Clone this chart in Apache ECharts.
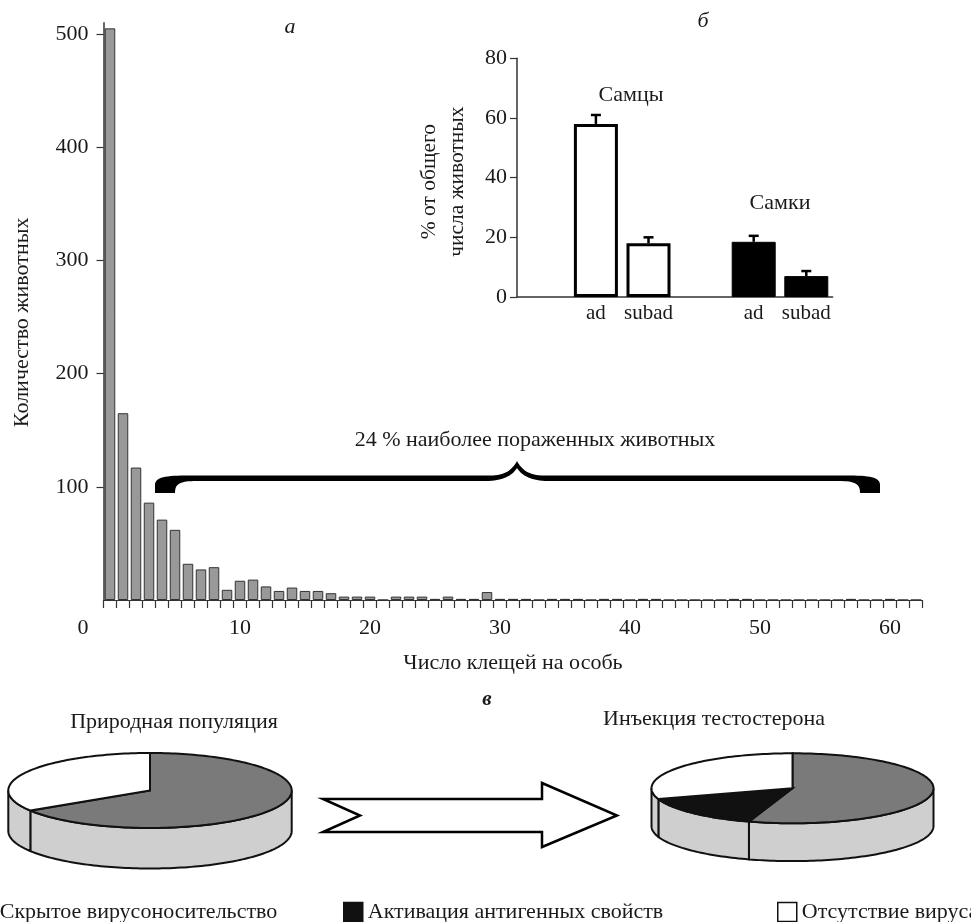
<!DOCTYPE html>
<html>
<head>
<meta charset="utf-8">
<title>Клещи и вирусоносительство</title>
<script src="https://cdn.jsdelivr.net/npm/echarts@6/dist/echarts.min.js"></script>
<style>
html, body { margin: 0; padding: 0; background: #fff; }
#chart { width: 971px; height: 922px; }
</style>
</head>
<body>
<div id="chart"></div>
<script>
// а: распределение числа клещей на особь
const miteCounts = ['0', '1', '2', '3', '4', '5', '6', '7', '8', '9', '10', '11', '12', '13', '14', '15', '16', '17', '18', '19', '20',
  '21', '22', '23', '24', '25', '26', '27', '28', '29', '30', '31', '32', '33', '34', '35', '36', '37', '38', '39', '40', '41',
  '42', '43', '44', '45', '46', '47', '48', '49', '50', '51', '52', '53', '54', '55', '56', '57', '58', '59', '60', '61', '62']
const animalCounts = [505, 165, 117, 86, 71, 62, 32, 27, 29, 9, 17, 18, 12, 8, 11, 8, 8, 6, 3, 3, 3,
  0, 3, 3, 3, 1, 3, 1, 1, 7, 1, 1, 1, 0, 1, 1, 1, 0, 1, 1, 0, 1,
  1, 0, 0, 0, 0, 0, 1, 1, 0, 0, 0, 0, 0, 0, 0, 1, 0, 0, 1, 0, 0]
const countTicks = [100, 200, 300, 400, 500]

// б: доля животных по полу и возрасту
const ageGroups = ['', 'ad', 'subad', '', 'ad', 'subad']
const maleShare = ['-', 58, 18, '-', '-', '-']
const maleError = ['-', 3, 2, '-', '-', '-']
const femaleShare = ['-', '-', '-', '-', 18.5, 7]
const femaleError = ['-', '-', '-', '-', 2, 1.7]

// в: состояние вируса
const virusStates = ['Скрытое вирусоносительство', 'Активация антигенных свойств', 'Отсутствие вируса']
const naturalShare = [66, 0, 34]
const testosteroneShare = [55, 15, 30]

const FONT = 'Liberation Serif'
const INK = '#1a1a1a'
const stateColors = ['#7a7a7a', '#111111', '#ffffff']
const SIDE_COLOR = '#cfcfcf'
const PIE_DEPTH = 1.08

const chart = echarts.init(document.getElementById('chart'))

function errorBars(values, errors) {
  const out = []
  values.forEach((v, i) => {
    if (v !== '-') out.push([i, v, v + errors[i]])
  })
  return out
}

function renderError(params, api) {
  const base = api.coord([api.value(0), api.value(1)])
  const top = api.coord([api.value(0), api.value(2)])
  const style = { stroke: '#000', lineWidth: 2.5 }
  return {
    type: 'group',
    children: [
      { type: 'line', shape: { x1: base[0], y1: base[1], x2: top[0], y2: top[1] }, style },
      { type: 'line', shape: { x1: top[0] - 5, y1: top[1], x2: top[0] + 5, y2: top[1] }, style }
    ]
  }
}

function renderSlice(params, api) {
  const a0 = Math.PI / 2 - api.value(0) * 2 * Math.PI
  const a1 = Math.PI / 2 - api.value(1) * 2 * Math.PI
  const arc = (from, to, dz) => {
    const n = Math.max(2, Math.ceil(Math.abs(to - from) / (Math.PI / 120)))
    const pts = []
    for (let i = 0; i <= n; i++) {
      const a = from + (to - from) * i / n
      pts.push(api.coord([Math.cos(a), Math.sin(a) - dz]))
    }
    return pts
  }
  const children = []
  const lo = Math.max(a1, -Math.PI)
  const hi = Math.min(a0, 0)
  if (hi > lo) {
    children.push({
      type: 'polygon',
      shape: { points: arc(lo, hi, 0).concat(arc(hi, lo, PIE_DEPTH)) },
      style: { fill: SIDE_COLOR, stroke: '#111', lineWidth: 2 }
    })
  }
  children.push({
    type: 'polygon',
    shape: { points: [api.coord([0, 0])].concat(arc(a0, a1, 0)) },
    style: { fill: api.visual('color'), stroke: '#111', lineWidth: 2 }
  })
  return { type: 'group', children }
}

function pieSeries(shares, axisIndex) {
  const total = shares.reduce((s, v) => s + v, 0)
  const list = []
  let acc = 0
  shares.forEach((v, i) => {
    if (v > 0) {
      list.push({
        type: 'custom',
        name: virusStates[i],
        xAxisIndex: axisIndex,
        yAxisIndex: axisIndex,
        clip: false,
        silent: true,
        itemStyle: { color: stateColors[i] },
        data: [[acc / total, (acc + v) / total]],
        renderItem: renderSlice
      })
    }
    acc += v
  })
  return list
}

// контур фигурной скобки: отрезки и кубические кривые, переведённые в точки
function outline(cmds) {
  const pts = []
  let cur = null
  cmds.forEach(c => {
    if (c.length === 2) {
      cur = c
      pts.push(c)
    } else {
      const [x1, y1, x2, y2, x, y] = c
      for (let k = 1; k <= 16; k++) {
        const t = k / 16, u = 1 - t
        pts.push([
          u * u * u * cur[0] + 3 * u * u * t * x1 + 3 * u * t * t * x2 + t * t * t * x,
          u * u * u * cur[1] + 3 * u * u * t * y1 + 3 * u * t * t * y2 + t * t * t * y
        ])
      }
      cur = [x, y]
    }
  })
  return pts
}

const braceShape = outline([
  [155, 493], [155, 485], [155, 477, 165, 475.5, 190, 475.5], [490, 475.5], [505, 475.5, 512, 470, 517, 461],
  [522, 470, 529, 475.5, 544, 475.5], [845, 475.5], [870, 475.5, 880, 477, 880, 485], [880, 493], [860, 493],
  [860, 484, 856, 481, 838, 481], [548, 481], [532, 481, 522, 476, 517, 468], [512, 476, 502, 481, 486, 481],
  [197, 481], [179, 481, 175, 484, 175, 493]
])

const hiddenAxis = (min, max, gridIndex) => ({ type: 'value', gridIndex, min, max, show: false })

const legendBase = {
  selectedMode: false,
  icon: 'rect',
  itemWidth: 19,
  itemHeight: 19,
  top: 896,
  itemStyle: { borderColor: '#111', borderWidth: 1.5 },
  textStyle: { fontFamily: FONT, fontSize: 22, color: INK }
}

const label = (text, x, y, font) => ({
  type: 'text',
  x,
  y,
  style: { text, font: font || '22px "Liberation Serif"', fill: INK, align: 'center', verticalAlign: 'middle' }
})

chart.setOption({
  animation: false,
  backgroundColor: '#fff',
  textStyle: { fontFamily: FONT, color: INK },
  legend: [
    Object.assign({ data: [virusStates[0]], left: -30 }, legendBase),
    Object.assign({ data: [virusStates[1]], left: 338 }, legendBase),
    Object.assign({ data: [virusStates[2]], left: 772 }, legendBase)
  ],
  grid: [
    { left: 103.5, right: 48.5, top: 22.7, bottom: 322 },
    { left: 517, width: 315.6, top: 58.3, bottom: 625 },
    { left: 8.3, width: 283.4, top: 753, height: 37.5 * (2 + PIE_DEPTH) },
    { left: 651.5, width: 282, top: 753.3, height: 35 * (2 + PIE_DEPTH) }
  ],
  xAxis: [
    {
      type: 'category',
      gridIndex: 0,
      data: miteCounts,
      name: 'Число клещей на особь',
      nameLocation: 'middle',
      nameGap: 52,
      nameTextStyle: { fontSize: 22, color: INK },
      axisLine: { lineStyle: { color: '#333', width: 1.2 } },
      axisTick: { show: true, interval: 0, length: 8, lineStyle: { color: '#333', width: 1.2 } },
      axisLabel: {
        interval: i => i % 10 === 0,
        margin: 17,
        fontSize: 22,
        color: INK,
        formatter: v => (v === '0' ? '{o|0}' : v),
        rich: { o: { fontSize: 22, padding: [0, 54, 0, 0] } }
      }
    },
    {
      type: 'category',
      gridIndex: 1,
      data: ageGroups,
      axisLine: { lineStyle: { color: '#333', width: 1.5 } },
      axisTick: { show: false },
      axisLabel: { interval: 0, margin: 6, fontSize: 21, color: INK }
    },
    hiddenAxis(-1, 1, 2),
    hiddenAxis(-1, 1, 3)
  ],
  yAxis: [
    {
      type: 'value',
      gridIndex: 0,
      min: 0,
      max: 510,
      name: 'Количество животных',
      nameLocation: 'middle',
      nameRotate: 90,
      nameGap: 70,
      nameTextStyle: { fontSize: 22, color: INK, padding: [0, 22, 0, 0] },
      splitLine: { show: false },
      axisLine: { show: true, lineStyle: { color: '#333', width: 1.5 } },
      axisTick: { show: true, length: 7, customValues: countTicks, lineStyle: { color: '#333', width: 1.2 } },
      axisLabel: { customValues: countTicks, margin: 15, fontSize: 22, color: INK }
    },
    {
      type: 'value',
      gridIndex: 1,
      min: 0,
      max: 80,
      interval: 20,
      name: '% от общего\nчисла животных',
      nameLocation: 'middle',
      nameRotate: 90,
      nameGap: 46,
      nameTextStyle: { fontSize: 21.5, lineHeight: 28, color: INK, padding: [0, 8, 0, 0] },
      splitLine: { show: false },
      axisLine: { show: true, lineStyle: { color: '#333', width: 1.5 } },
      axisTick: { show: true, length: 7, lineStyle: { color: '#333', width: 1.2 } },
      axisLabel: { margin: 10, fontSize: 22, color: INK }
    },
    hiddenAxis(-1 - PIE_DEPTH, 1, 2),
    hiddenAxis(-1 - PIE_DEPTH, 1, 3)
  ],
  series: [
    {
      type: 'bar',
      xAxisIndex: 0,
      yAxisIndex: 0,
      data: animalCounts,
      barWidth: 10.5,
      itemStyle: { color: '#999999', borderColor: '#333', borderWidth: 1 }
    },
    {
      type: 'bar',
      name: 'Самцы',
      xAxisIndex: 1,
      yAxisIndex: 1,
      data: maleShare,
      barWidth: 44,
      barGap: '-100%',
      itemStyle: { color: '#fff', borderColor: '#000', borderWidth: 3 }
    },
    {
      type: 'bar',
      name: 'Самки',
      xAxisIndex: 1,
      yAxisIndex: 1,
      data: femaleShare,
      barWidth: 44,
      barGap: '-100%',
      itemStyle: { color: '#000', borderColor: '#000', borderWidth: 1 }
    },
    {
      type: 'custom',
      xAxisIndex: 1,
      yAxisIndex: 1,
      data: errorBars(maleShare, maleError).concat(errorBars(femaleShare, femaleError)),
      renderItem: renderError,
      z: 1
    }
  ].concat(pieSeries(naturalShare, 2), pieSeries(testosteroneShare, 3)),
  graphic: [
    label('а', 290, 27, 'italic 22px "Liberation Serif"'),
    label('б', 703, 21, 'italic 22px "Liberation Serif"'),
    label('в', 487, 700, 'italic bold 21px "Liberation Serif"'),
    label('Самцы', 631, 95),
    label('Самки', 780, 203),
    label('24 % наиболее пораженных животных', 535, 440),
    label('Природная популяция', 174, 722),
    label('Инъекция тестостерона', 714, 719),
    { type: 'polygon', shape: { points: braceShape }, style: { fill: '#000' } },
    {
      type: 'polygon',
      shape: {
        points: [[323, 799], [542, 799], [542, 783], [617, 815.5], [542, 847], [542, 832], [323, 832], [360, 815.5]]
      },
      style: { fill: '#fff', stroke: '#000', lineWidth: 2.5 }
    }
  ]
})
</script>
</body>
</html>
